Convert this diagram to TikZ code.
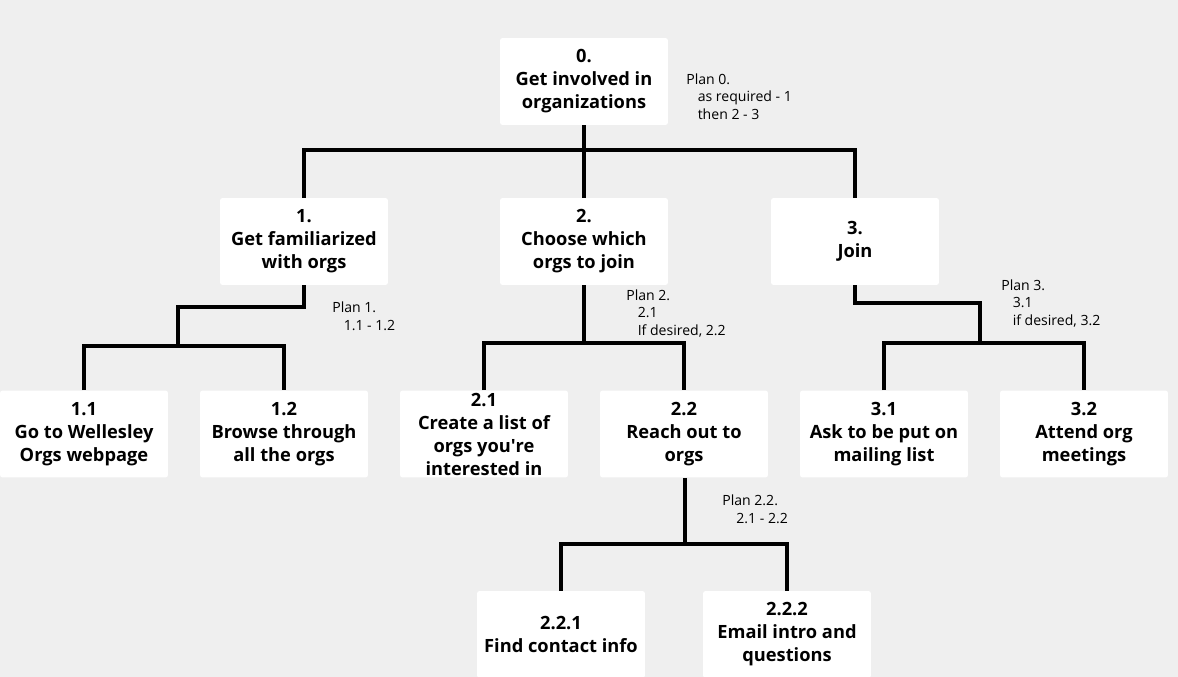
\documentclass[tikz,border=0pt]{standalone}
\usepackage{fontspec}
\setmainfont{Open Sans}
\usepackage{tikz}
\usetikzlibrary{positioning}
\definecolor{bggray}{HTML}{EFEFEF}
\newcommand{\ind}{\hspace*{6.5pt}}

\begin{document}
\begin{tikzpicture}[
    x=0.02cm, y=-0.02cm,
    task/.style={fill=white, rounded corners=1.5pt, align=center, minimum width=3.36cm, minimum height=1.74cm, inner sep=0pt, font=\fontsize{10.4}{13.1}\selectfont\bfseries},
    plan/.style={anchor=base west, align=left, inner sep=0pt, font=\fontsize{8}{10}\selectfont},
    link/.style={line width=2.2pt}
]
\fill[bggray] (0,0) rectangle (1178,677);
\useasboundingbox (0,0) rectangle (1178,677);

% tasks
\node[task] (n0) at (584,81.5) {0.\\Get involved in\\organizations};
\node[task] (n1) at (304,241.5) {1.\\Get familiarized\\with orgs};
\node[task] (n2) at (584,241.5) {2.\\Choose which\\orgs to join};
\node[task] (n3) at (855,241.5) {3.\\Join};
\node[task] (n11) at (84,434) {1.1\\Go to Wellesley\\Orgs webpage};
\node[task] (n12) at (284,434) {1.2\\Browse through\\all the orgs};
\node[task] (n21) at (484,434) {2.1\\Create a list of\\orgs you\textquotesingle re\\interested in};
\node[task] (n22) at (684,434) {2.2\\Reach out to\\orgs};
\node[task] (n31) at (884,434) {3.1\\Ask to be put on\\mailing list};
\node[task] (n32) at (1084,434) {3.2\\Attend org\\meetings};
\node[task] (n221) at (561,634.5) {2.2.1\\Find contact info};
\node[task] (n222) at (787,634.5) {2.2.2\\Email intro and\\questions};

% plans (anchored at the last line)
\node[plan] (p0) at (686,119.5) {Plan 0.\\\ind as required - 1\\\ind then 2 - 3};
\node[plan] (p1) at (332,330.5) {Plan 1.\\\ind 1.1 - 1.2};
\node[plan] (p2) at (626,335.5) {Plan 2.\\\ind 2.1\\\ind If desired, 2.2};
\node[plan] (p3) at (1001,325.5) {Plan 3.\\\ind 3.1\\\ind if desired, 3.2};
\node[plan] (p22) at (722,523.5) {Plan 2.2.\\\hspace*{8pt}2.1 - 2.2};

% junctions
\coordinate (j0) at (584,150);
\coordinate (j1) at (178,307);
\coordinate (j1b) at (178,346);
\coordinate (j2) at (584,343);
\coordinate (j3) at (980,303);
\coordinate (j3b) at (980,343);
\coordinate (j22) at (685,544);

% links
\draw[link] (n0) -- (n2);
\draw[link] (n1.north) |- (j0) -| (n3.north);
\draw[link] (n1.south) |- (j1) -- (j1b);
\draw[link] (n11.north) |- (j1b) -| (n12.north);
\draw[link] (n2.south) -- (j2);
\draw[link] (n21.north) |- (j2) -| (n22.north);
\draw[link] (n3.south) |- (j3) -- (j3b);
\draw[link] (n31.north) |- (j3b) -| (n32.north);
\draw[link] (n22.south -| j22) -- (j22);
\draw[link] (n221.north) |- (j22) -| (n222.north);
\end{tikzpicture}
\end{document}
